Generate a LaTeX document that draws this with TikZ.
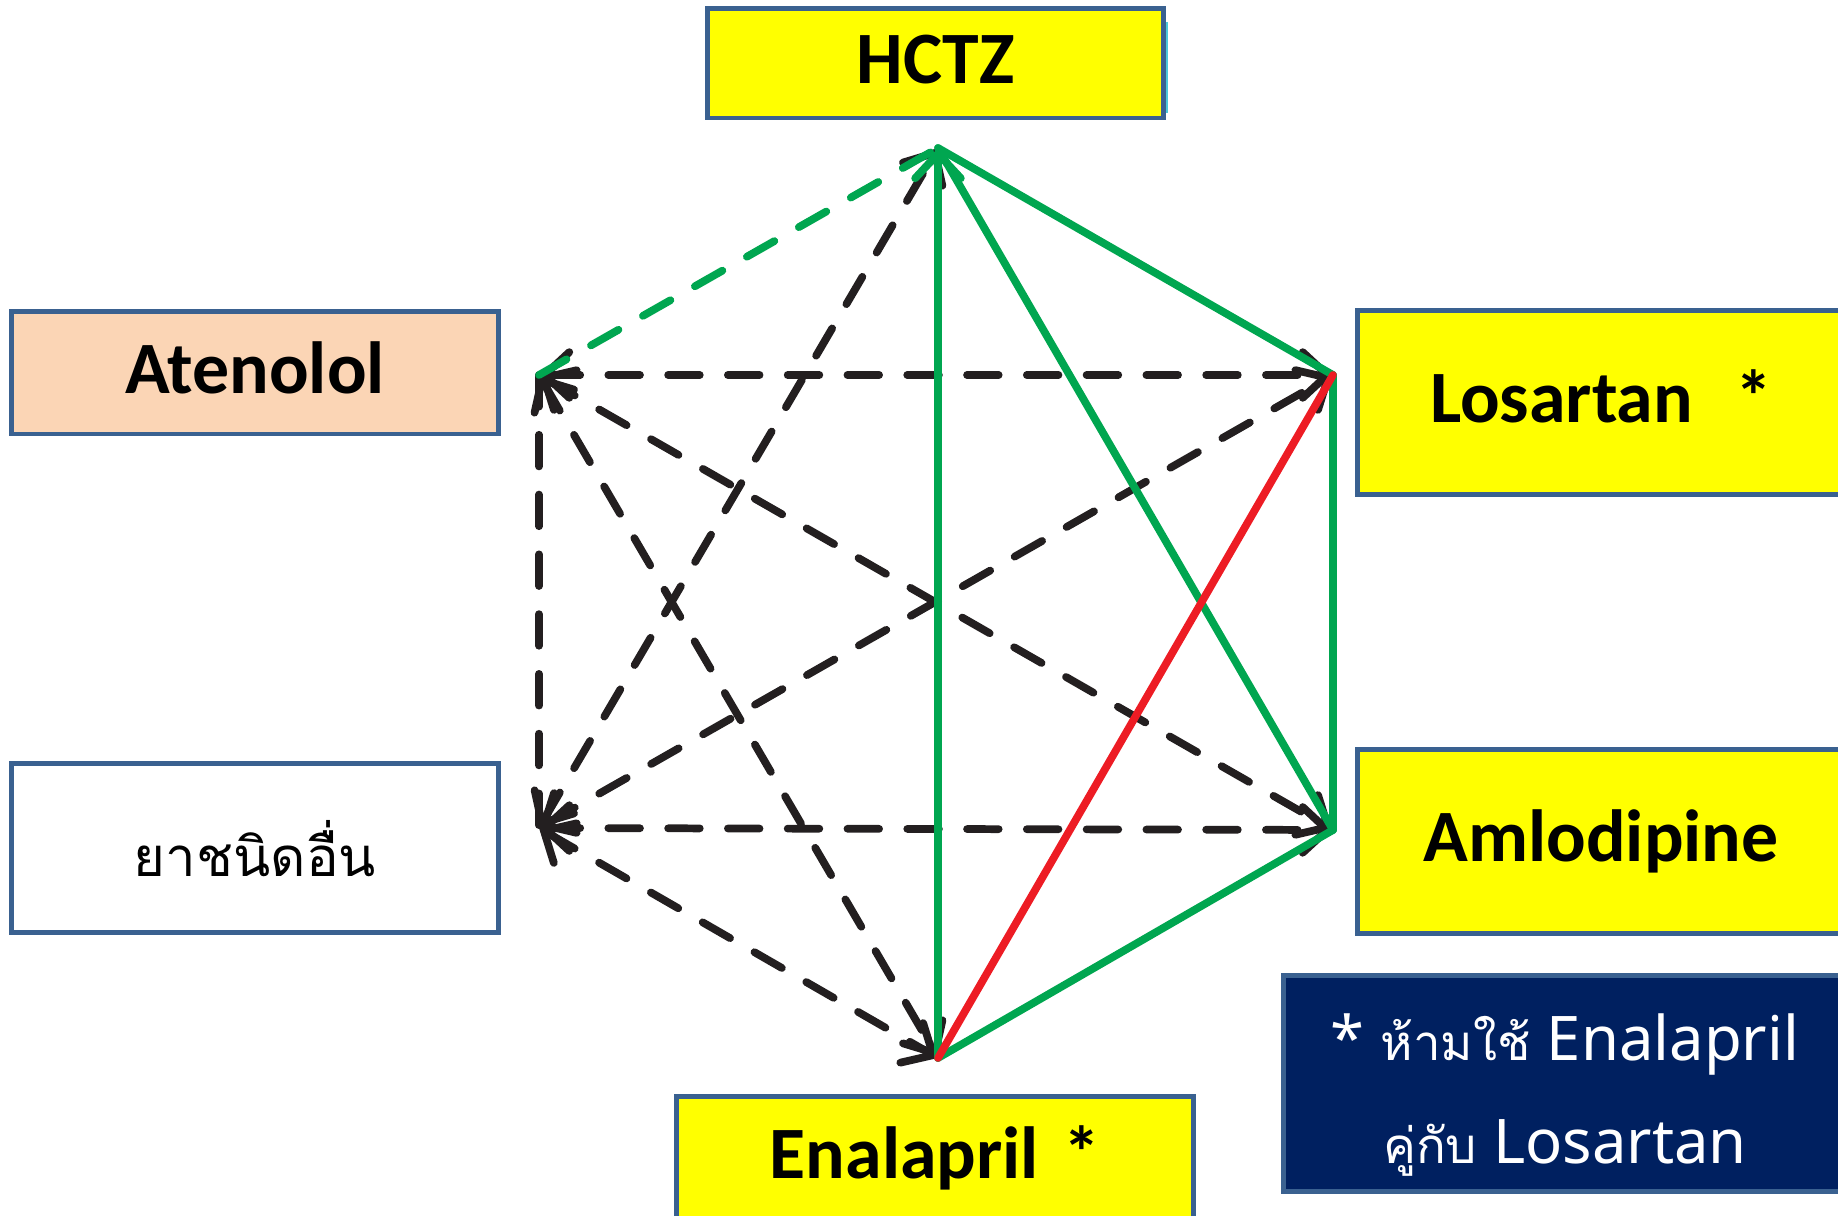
\documentclass[tikz,border=0pt]{standalone}
\usepackage{fontspec}
\setmainfont{Carlito}
\newfontfamily\thaifont[Script=Thai]{Loma}
\newfontfamily\notefont{Noto Sans}
\usetikzlibrary{arrows.meta}
\definecolor{boxblue}{HTML}{3A6190}
\definecolor{ylw}{HTML}{FFFF00}
\definecolor{peach}{HTML}{FBD5B5}
\definecolor{navy}{HTML}{002060}
\definecolor{grn}{HTML}{00A650}
\definecolor{rd}{HTML}{ED1C24}
\definecolor{blk}{HTML}{231F20}
\definecolor{cyanshadow}{HTML}{4BC8DA}
\begin{document}
\begin{tikzpicture}[x=0.01cm,y=-0.01cm,
  drugbox/.style={draw=boxblue, line width=1.4pt, inner sep=0pt,
    font=\bfseries\fontsize{21}{25}\selectfont, text height=15pt, text depth=3.5pt},
  conn/.style={line width=2.2pt, line cap=round},
  dsh/.style={dash pattern=on 9pt off 8pt},
  notetxt/.style={text=white, inner sep=0pt, font=\notefont\fontsize{17.5}{20}\selectfont},
  >={Straight Barb[length=7pt,width=13pt,line cap=round]}
]
\useasboundingbox (0,0) rectangle (1838,1216);
\clip (0,0) rectangle (1838,1216);

% boxes
\fill[cyanshadow] (1160,22) rectangle (1168,113);
\node[drugbox, fill=ylw, minimum width=4.55cm, minimum height=1.09cm] (hctz) at (935.5,63.5) {HCTZ};
\node[drugbox, fill=peach, minimum width=4.86cm, minimum height=1.22cm] (aten) at (255,373) {Atenolol};
\node[drugbox, fill=white, minimum width=4.86cm, minimum height=1.68cm, text height=19pt, text depth=3pt,
  font=\thaifont\fontsize{15.5}{18}\selectfont] (other) at (255,848) {ยาชนิดอื่น};
\node[drugbox, fill=ylw, minimum width=4.86cm, minimum height=1.83cm] (los) at (1601,402.5) {Losartan\hspace{12pt}*};
\node[drugbox, fill=ylw, minimum width=4.86cm, minimum height=1.83cm] (aml) at (1601,841.5) {Amlodipine};
\node[drugbox, fill=ylw, minimum width=5.16cm, minimum height=1.22cm] (ena) at (935,1158) {Enalapril\hspace{7pt}*};
\node[draw=boxblue, line width=1.4pt, fill=navy, minimum width=5.62cm, minimum height=2.15cm] (note) at (1565,1083.5) {};
\node[notetxt, anchor=base] (n1) at (1565,1061) {* {\thaifont\fontsize{14}{18}\selectfont ห้ามใช้} Enalapril};
\node[notetxt, anchor=base] (n2) at (1565,1164) {{\thaifont\fontsize{14}{18}\selectfont คู่กับ} Losartan};

% hexagon vertices
\coordinate (T) at (938,148);
\coordinate (A) at (539,375);
\coordinate (L) at (1333,375);
\coordinate (O) at (539,828);
\coordinate (M) at (1333,830);
\coordinate (B) at (938,1058);

% black dashed
\draw[conn, blk, dsh, <->] (A) -- (L);
\draw[conn, blk, dsh, <->] (A) -- (M);
\draw[conn, blk, dsh, <->] (A) -- (B);
\draw[conn, blk, dsh, <->] (O) -- (T);
\draw[conn, blk, dsh, <->] (O) -- (L);
\draw[conn, blk, dsh, <->] (O) -- (M);
\draw[conn, blk, dsh, <->] (O) -- (B);
\draw[conn, blk, dsh] (A) -- (O);

% green
\draw[conn, grn, dsh] (A) -- (T);
\draw[conn, grn] (T) -- (L);
\draw[conn, grn] (T) -- (M);
\draw[conn, grn] (L) -- (M);
\draw[conn, grn] (M) -- (B);
\draw[conn, grn, <-] (T) -- (B);

% red
\draw[conn, rd] (L) -- (B);
\end{tikzpicture}
\end{document}
